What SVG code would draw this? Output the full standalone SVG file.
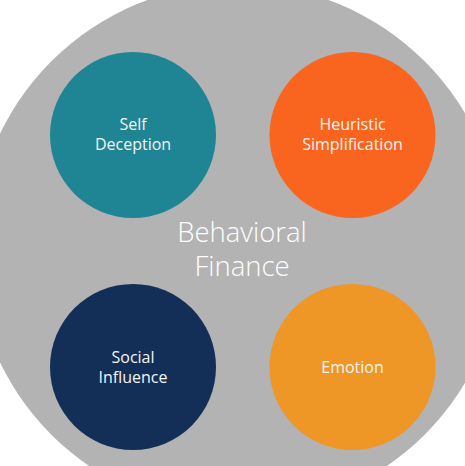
<svg xmlns="http://www.w3.org/2000/svg" width="465" height="466" viewBox="0 0 465 466">
<style>
.t{font-family:"Open Sans","Noto Sans","Liberation Sans",sans-serif;fill:#f4f4f4;text-anchor:middle}
.s{font-size:16px}
.b{font-size:27.5px;font-weight:300;fill:#ffffff}
</style>
<rect width="465" height="466" fill="#ffffff"/>
<g id="behavioral-finance">
<circle cx="238" cy="248" r="264" fill="#b3b3b3"/>
<text class="t b" x="242" y="242">Behavioral</text>
<text class="t b" x="242" y="276">Finance</text>
</g>
<g id="self-deception">
<circle cx="133" cy="135" r="83" fill="#1f8595"/>
<text class="t s" x="133" y="130">Self</text>
<text class="t s" x="133" y="150">Deception</text>
</g>
<g id="heuristic-simplification">
<circle cx="352.5" cy="135" r="83" fill="#f9651f"/>
<text class="t s" x="352.5" y="130">Heuristic</text>
<text class="t s" x="352.5" y="150">Simplification</text>
</g>
<g id="social-influence">
<circle cx="133" cy="367" r="83" fill="#132f57"/>
<text class="t s" x="133" y="363">Social</text>
<text class="t s" x="133" y="383">Influence</text>
</g>
<g id="emotion">
<circle cx="352.5" cy="367" r="83" fill="#ee9626"/>
<text class="t s" x="352.5" y="373">Emotion</text>
</g>
<g id="connectors"></g>
</svg>
